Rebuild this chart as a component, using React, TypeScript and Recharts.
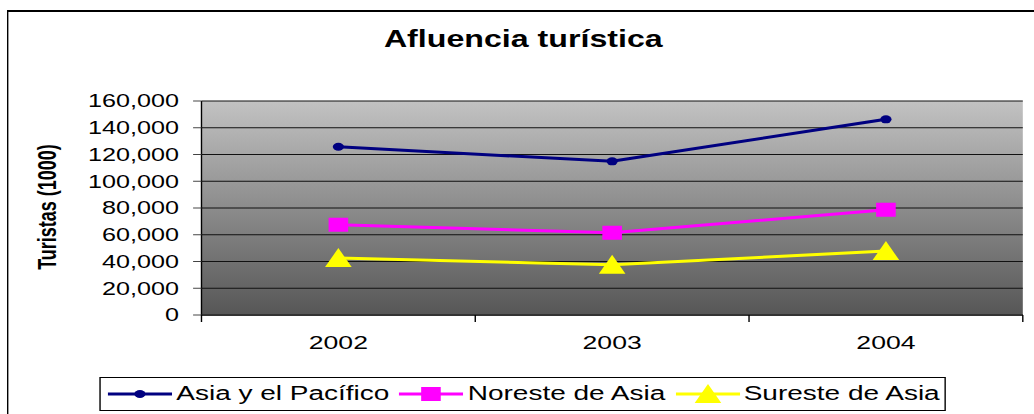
import React from 'react';
import { LineChart, Line, XAxis, YAxis, CartesianGrid, Legend } from 'recharts';

const years = ['2002', '2003', '2004'];
const asiaPacifico = [125800, 114900, 146300];
const noresteAsia = [67500, 61500, 78700];
const suresteAsia = [42600, 37600, 47800];
const yTicks = [0, 20000, 40000, 60000, 80000, 100000, 120000, 140000, 160000];

const chartData = years.map((year, i) => ({
  year,
  asia: asiaPacifico[i],
  noreste: noresteAsia[i],
  sureste: suresteAsia[i],
}));

const series = [
  { key: 'asia', name: 'Asia y el Pacífico', color: '#000080', shape: 'circle' },
  { key: 'noreste', name: 'Noreste de Asia', color: '#FF00FF', shape: 'square' },
  { key: 'sureste', name: 'Sureste de Asia', color: '#FFFF00', shape: 'triangle' },
];

// the original is stretched sideways, so the chart is drawn narrow and scaled
const W = 739;
const H = 414;
const SX = 1034 / W;
const FONT = '"Liberation Sans", Arial, sans-serif';

function Marker({ cx, cy, shape, color }: { cx?: number; cy?: number; shape: string; color: string }) {
  if (cx == null || cy == null) return null;
  if (shape === 'circle') return <circle cx={cx} cy={cy} r={4} fill={color} />;
  if (shape === 'square') return <rect x={cx - 7} y={cy - 7} width={14} height={14} fill={color} />;
  return <polygon points={`${cx},${cy - 10} ${cx + 9.5},${cy + 9} ${cx - 9.5},${cy + 9}`} fill={color} />;
}

function XTick(props: any) {
  const { x, y, payload, index } = props;
  const half = payload?.offset || 98;
  return (
    <g>
      <line x1={x - half} x2={x - half} y1={y - 7} y2={y} stroke="#000" />
      {index === years.length - 1 && <line x1={x + half} x2={x + half} y1={y - 7} y2={y} stroke="#000" />}
      <text x={x} y={y + 27} textAnchor="middle" fontSize={19} fontFamily={FONT} fill="#000">
        {payload.value}
      </text>
    </g>
  );
}

function LegendBox() {
  return (
    <div
      style={{
        marginLeft: 71,
        width: 605,
        height: 34,
        boxSizing: 'border-box',
        border: '1px solid #000',
        display: 'flex',
        alignItems: 'center',
        paddingLeft: 5,
        fontFamily: FONT,
        fontSize: 20,
        color: '#000',
        background: '#fff',
      }}
    >
      {series.map((s) => (
        <div key={s.key} style={{ display: 'flex', alignItems: 'center', marginRight: 7 }}>
          <svg width={46} height={24} style={{ display: 'block' }}>
            <line x1={0} y1={12} x2={46} y2={12} stroke={s.color} strokeWidth={3} />
            <Marker cx={23} cy={12} shape={s.shape} color={s.color} />
          </svg>
          <span style={{ marginLeft: 3, whiteSpace: 'nowrap', position: 'relative', top: -1 }}>{s.name}</span>
        </div>
      ))}
    </div>
  );
}

export default function App() {
  return (
    <div
      style={{
        position: 'absolute',
        left: 0,
        top: 0,
        width: W,
        height: H,
        overflow: 'hidden',
        background: '#fff',
        transform: `scaleX(${SX})`,
        transformOrigin: '0 0',
      }}
    >
      <div
        style={{
          position: 'absolute',
          left: 5.3,
          top: 10,
          width: W - 5.3,
          height: H - 10,
          boxSizing: 'border-box',
          borderLeft: '1.4px solid #000',
          borderTop: '2px solid #000',
        }}
      />
      <LineChart width={W} height={H} data={chartData} margin={{ top: 101, right: 8, left: 0, bottom: 3 }}>
        <defs>
          <linearGradient id="plotBg" x1="0" y1="0" x2="0" y2="1">
            <stop offset="0%" stopColor="#C2C2C2" />
            <stop offset="100%" stopColor="#565656" />
          </linearGradient>
        </defs>
        <CartesianGrid vertical={false} stroke="#111" fill="url(#plotBg)" />
        <XAxis
          dataKey="year"
          scale="band"
          height={62}
          interval={0}
          tickSize={7}
          tickMargin={0}
          tickLine={false}
          axisLine={{ stroke: '#333', strokeWidth: 2 }}
          tick={<XTick />}
        />
        <YAxis
          width={144}
          domain={[0, 160000]}
          ticks={yTicks}
          interval={0}
          tickSize={6}
          tickMargin={10}
          tickFormatter={(v: number) => v.toLocaleString('en-US')}
          tick={{ fill: '#000', fontSize: 18, fontFamily: FONT }}
          tickLine={{ stroke: '#444' }}
          axisLine={{ stroke: '#000' }}
        />
        <Legend verticalAlign="bottom" align="left" content={() => <LegendBox />} />
        {series.map((s) => (
          <Line
            key={s.key}
            type="linear"
            dataKey={s.key}
            name={s.name}
            stroke={s.color}
            strokeWidth={3}
            isAnimationActive={false}
            activeDot={false}
            dot={(p: any) => (
              <Marker key={`${s.key}-${p.index}`} cx={p.cx} cy={p.cy} shape={s.shape} color={s.color} />
            )}
          />
        ))}
      </LineChart>
      <svg width={W} height={H} style={{ position: 'absolute', left: 0, top: 0, pointerEvents: 'none' }}>
        <text x={374} y={47} textAnchor="middle" fontSize={23} fontWeight="bold" fontFamily={FONT} fill="#000">
          Afluencia turística
        </text>
        <text
          x={34}
          y={207}
          transform="rotate(-90 34 207)"
          textAnchor="middle"
          dominantBaseline="central"
          fontSize={18}
          fontWeight="bold"
          fontFamily={FONT}
          fill="#000"
        >
          Turistas (1000)
        </text>
      </svg>
    </div>
  );
}
